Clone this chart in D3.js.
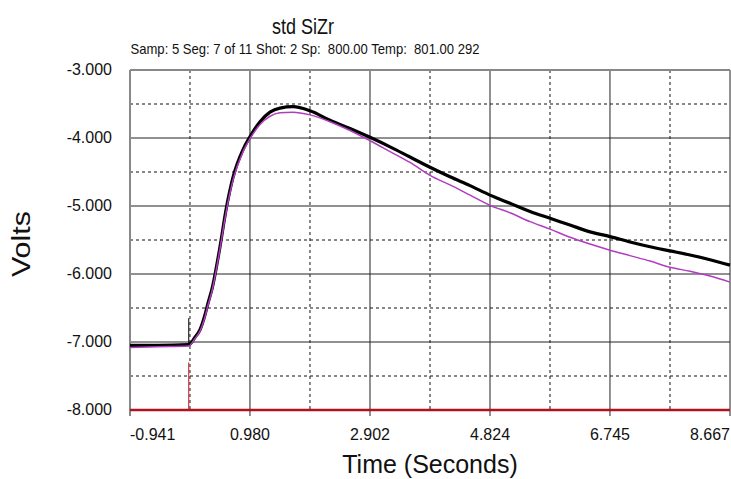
<!DOCTYPE html>
<html>
<head>
<meta charset="utf-8">
<script src="https://cdn.jsdelivr.net/npm/d3@7"></script>
<style>
  body { margin: 0; background: #fff; }
  svg { display: block; font-family: "Liberation Sans", Arial, sans-serif; }
</style>
</head>
<body>
<div id="chart"></div>
<script>
// time axis (seconds)
let times = [-0.941, -0.5, 0.0, 0.1, 0.18, 0.26, 0.308, 0.372, 0.5, 0.596, 0.708, 0.869, 0.981,
             1.141, 1.301, 1.461, 1.669, 1.942, 2.262, 2.582, 2.902, 3.223, 3.543, 3.863, 4.183,
             4.504, 4.824, 5.144, 5.465, 5.785, 6.105, 6.425, 6.745, 7.066, 7.386, 7.706, 8.027,
             8.347, 8.667];
// measured trace (black)
let measured = [-7.05, -7.05, -7.04, -6.93, -6.82, -6.60, -6.43, -6.22, -5.60, -5.06, -4.58, -4.17, -3.98,
                -3.76, -3.62, -3.56, -3.54, -3.60, -3.74, -3.86, -3.99, -4.13, -4.28, -4.43, -4.57,
                -4.70, -4.84, -4.96, -5.08, -5.18, -5.28, -5.38, -5.45, -5.53, -5.60, -5.66, -5.72,
                -5.79, -5.87];
// fitted trace (magenta)
let fitted = [-7.08, -7.07, -7.06, -6.95, -6.84, -6.63, -6.46, -6.25, -5.63, -5.10, -4.62, -4.20, -4.01,
              -3.80, -3.68, -3.63, -3.62, -3.66, -3.76, -3.89, -4.04, -4.20, -4.36, -4.55, -4.69,
              -4.84, -4.99, -5.10, -5.23, -5.34, -5.46, -5.56, -5.65, -5.73, -5.81, -5.90, -5.96,
              -6.03, -6.12];
// baseline (red) and trigger spikes at t = 0
let baseline = [[-0.941, -8.0], [8.667, -8.0]];
let triggerBlack = [[0.0, -7.04], [0.0, -6.65]];
let triggerRed = [[0.0, -8.0], [0.0, -7.3]];

let xTicks = [-0.941, 0.980, 2.902, 4.824, 6.745, 8.667];
let yTicks = [-3, -4, -5, -6, -7, -8];

let W = 731, H = 479;
let margin = {top: 70, right: 1, bottom: 69, left: 130};
let width = W - margin.left - margin.right,
    height = H - margin.top - margin.bottom;

let svg = d3.select("#chart").append("svg")
  .attr("width", W).attr("height", H);

let g = svg.append("g")
  .attr("transform", "translate(" + margin.left + "," + margin.top + ")");

let x = d3.scaleLinear().domain([-0.941, 8.667]).range([0, width]);
let y = d3.scaleLinear().domain([-8, -3]).range([height, 0]);

// minor (dashed) grid at midpoints
let xMinor = xTicks.slice(0, -1).map((d, i) => (d + xTicks[i + 1]) / 2);
let yMinor = yTicks.slice(0, -1).map((d, i) => (d + yTicks[i + 1]) / 2);

g.selectAll("line.xminor").data(xMinor).enter().append("line")
  .attr("x1", d => x(d)).attr("x2", d => x(d))
  .attr("y1", 0).attr("y2", height)
  .attr("stroke", "#111").attr("stroke-width", 1).attr("stroke-dasharray", "3,3");
g.selectAll("line.yminor").data(yMinor).enter().append("line")
  .attr("x1", 0).attr("x2", width)
  .attr("y1", d => y(d)).attr("y2", d => y(d))
  .attr("stroke", "#111").attr("stroke-width", 1).attr("stroke-dasharray", "3,3");

// major grid
g.selectAll("line.xmajor").data(xTicks.slice(1)).enter().append("line")
  .attr("x1", d => x(d)).attr("x2", d => x(d))
  .attr("y1", 0).attr("y2", height + 6)
  .attr("stroke", "#222").attr("stroke-width", 1);
g.selectAll("line.ymajor").data(yTicks.slice(1)).enter().append("line")
  .attr("x1", 0).attr("x2", width)
  .attr("y1", d => y(d)).attr("y2", d => y(d))
  .attr("stroke", "#222").attr("stroke-width", 1);

// frame: left and top
g.append("line").attr("x1", 0).attr("x2", 0).attr("y1", 0).attr("y2", height + 6)
  .attr("stroke", "#888").attr("stroke-width", 2);
g.append("line").attr("x1", 0).attr("x2", width).attr("y1", 0).attr("y2", 0)
  .attr("stroke", "#888").attr("stroke-width", 2);

// axis labels (plain hyphen minus, as in the original)
let fmt = d => d.toFixed(3);
g.selectAll("text.xt").data(xTicks).enter().append("text")
  .attr("x", d => x(d)).attr("y", height + 30)
  .attr("text-anchor", (d, i) => i === 0 ? "start" : (i === xTicks.length - 1 ? "end" : "middle"))
  .attr("font-size", 16).attr("fill", "#111")
  .text(fmt);
g.selectAll("text.yt").data(yTicks).enter().append("text")
  .attr("x", -18).attr("y", d => y(d) + 5)
  .attr("text-anchor", "end")
  .attr("font-size", 16).attr("fill", "#111")
  .text(fmt);

// traces
let line = d3.line().x(d => x(d[0])).y(d => y(d[1]));
let curve = d3.line().x(d => x(d[0])).y(d => y(d[1])).curve(d3.curveMonotoneX);

g.append("path").datum(baseline).attr("d", line)
  .attr("fill", "none").attr("stroke", "#b0121e").attr("stroke-width", 2.5);
g.append("path").datum(triggerRed).attr("d", line)
  .attr("fill", "none").attr("stroke", "#c0141e").attr("stroke-width", 1);

g.append("path").datum(times.map((t, i) => [t, measured[i]])).attr("d", curve)
  .attr("fill", "none").attr("stroke", "#000").attr("stroke-width", 3.2);
g.append("path").datum(triggerBlack).attr("d", line)
  .attr("fill", "none").attr("stroke", "#000").attr("stroke-width", 1);
g.append("path").datum(times.map((t, i) => [t, fitted[i]])).attr("d", curve)
  .attr("fill", "none").attr("stroke", "#b23cc0").attr("stroke-width", 1.5);

// titles
svg.append("text").attr("x", 303).attr("y", 34)
  .attr("text-anchor", "middle").attr("font-size", 22).attr("fill", "#111")
  .attr("textLength", 62).attr("lengthAdjust", "spacingAndGlyphs")
  .text("std SiZr");
svg.append("text").attr("x", 305).attr("y", 54)
  .attr("text-anchor", "middle").attr("font-size", 15).attr("fill", "#111")
  .attr("xml:space", "preserve").style("white-space", "pre")
  .attr("textLength", 349).attr("lengthAdjust", "spacingAndGlyphs")
  .text("Samp: 5 Seg: 7 of 11 Shot: 2 Sp:  800.00 Temp:  801.00 292");
svg.append("text").attr("x", 430).attr("y", 473)
  .attr("text-anchor", "middle").attr("font-size", 25).attr("fill", "#111")
  .text("Time (Seconds)");
svg.append("text").attr("transform", "translate(30,244) rotate(-90)")
  .attr("text-anchor", "middle").attr("font-size", 25).attr("fill", "#111")
  .attr("textLength", 66).attr("lengthAdjust", "spacingAndGlyphs")
  .text("Volts");
</script>
</body>
</html>
